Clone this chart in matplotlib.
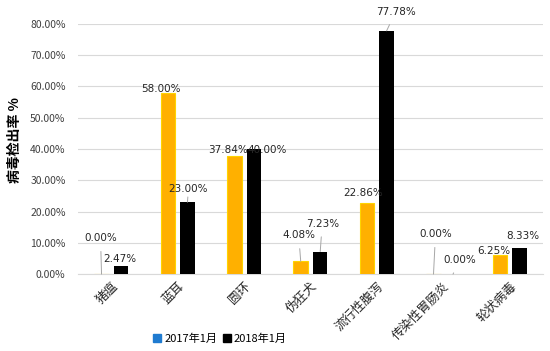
import numpy as np
import matplotlib.pyplot as plt
from matplotlib.ticker import PercentFormatter

plt.rcParams['font.family'] = ['Noto Sans CJK SC', 'DejaVu Sans']

categories = ['猪瘟', '蓝耳', '圆环', '伪狂犬', '流行性腹泻', '传染性胃肠炎', '轮状病毒']
rate_2017 = [0.00, 58.00, 37.84, 4.08, 22.86, 0.00, 6.25]
rate_2018 = [2.47, 23.00, 40.00, 7.23, 77.78, 0.00, 8.33]
series_names = ['2017年1月', '2018年1月']

# label offsets (pixels) from bar top: (dx, dy, leader line)
off_2017 = [(-1, 36, True), (-7, 4, False), (-6, 6, False), (-2, 26, True),
            (-4, 10, False), (2, 40, True), (-6, 4, False)]
off_2018 = [(-1, 7, False), (1, 13, True), (13, -1, False), (2, 28, True),
            (9, 19, True), (7, 14, True), (3, 12, False)]

fig = plt.figure(figsize=(5.5, 3.51), dpi=100)
ax = fig.add_axes([0.142, 0.219, 0.845, 0.713])

x = np.arange(len(categories))
w = 0.218
d = 0.147
b1 = ax.bar(x - d, rate_2017, w, color='#FFB000', edgecolor='#FFD400', lw=0.8, zorder=3)
b2 = ax.bar(x + d, rate_2018, w, color='#000000', zorder=3)

def label(bars, vals, offs):
    for b, v, (dx, dy, lead) in zip(bars, vals, offs):
        cx = b.get_x() + b.get_width() / 2
        ax.annotate(f'{v:.2f}%', xy=(cx, v), xytext=(dx, dy), textcoords='offset pixels',
                    ha='center', va='center', fontsize=7.5, color='#262626',
                    fontfamily='DejaVu Sans', annotation_clip=False,
                    arrowprops=dict(arrowstyle='-', color='#A6A6A6', lw=0.7,
                                    shrinkA=4, shrinkB=0) if lead else None)

label(b1, rate_2017, off_2017)
label(b2, rate_2018, off_2018)

ax.set_xlim(-0.5, len(categories) - 0.5)
ax.set_ylim(0, 80)
ax.set_yticks(np.arange(0, 81, 10))
ax.yaxis.set_major_formatter(PercentFormatter(decimals=2))
ax.tick_params(axis='y', length=0, labelsize=7.5, labelcolor='#404040', pad=9)
ax.tick_params(axis='x', length=0, pad=4)
ax.set_xticks(x)
ax.set_xticklabels(categories, rotation=45, ha='right', va='top',
                   rotation_mode='anchor', fontsize=9, color='#262626')
ax.grid(axis='y', color='#D9D9D9', lw=0.8, zorder=0)
for s in ['top', 'right', 'left']:
    ax.spines[s].set_visible(False)
ax.spines['bottom'].set_color('#D9D9D9')

fig.text(0.027, 0.6, '病毒检出率 %', rotation=90, ha='center', va='center',
         fontsize=10, fontweight='bold', color='#000000')

h1 = plt.Rectangle((0, 0), 1, 1, color='#1F7BD0')
h2 = plt.Rectangle((0, 0), 1, 1, color='#000000')
fig.legend([h1, h2], series_names, loc='center', bbox_to_anchor=(0.4, 0.035),
           ncol=2, frameon=False, fontsize=8, handlelength=0.7, handleheight=0.7,
           handletextpad=0.3, columnspacing=0.5)

fig.savefig('out.png', dpi=100)
